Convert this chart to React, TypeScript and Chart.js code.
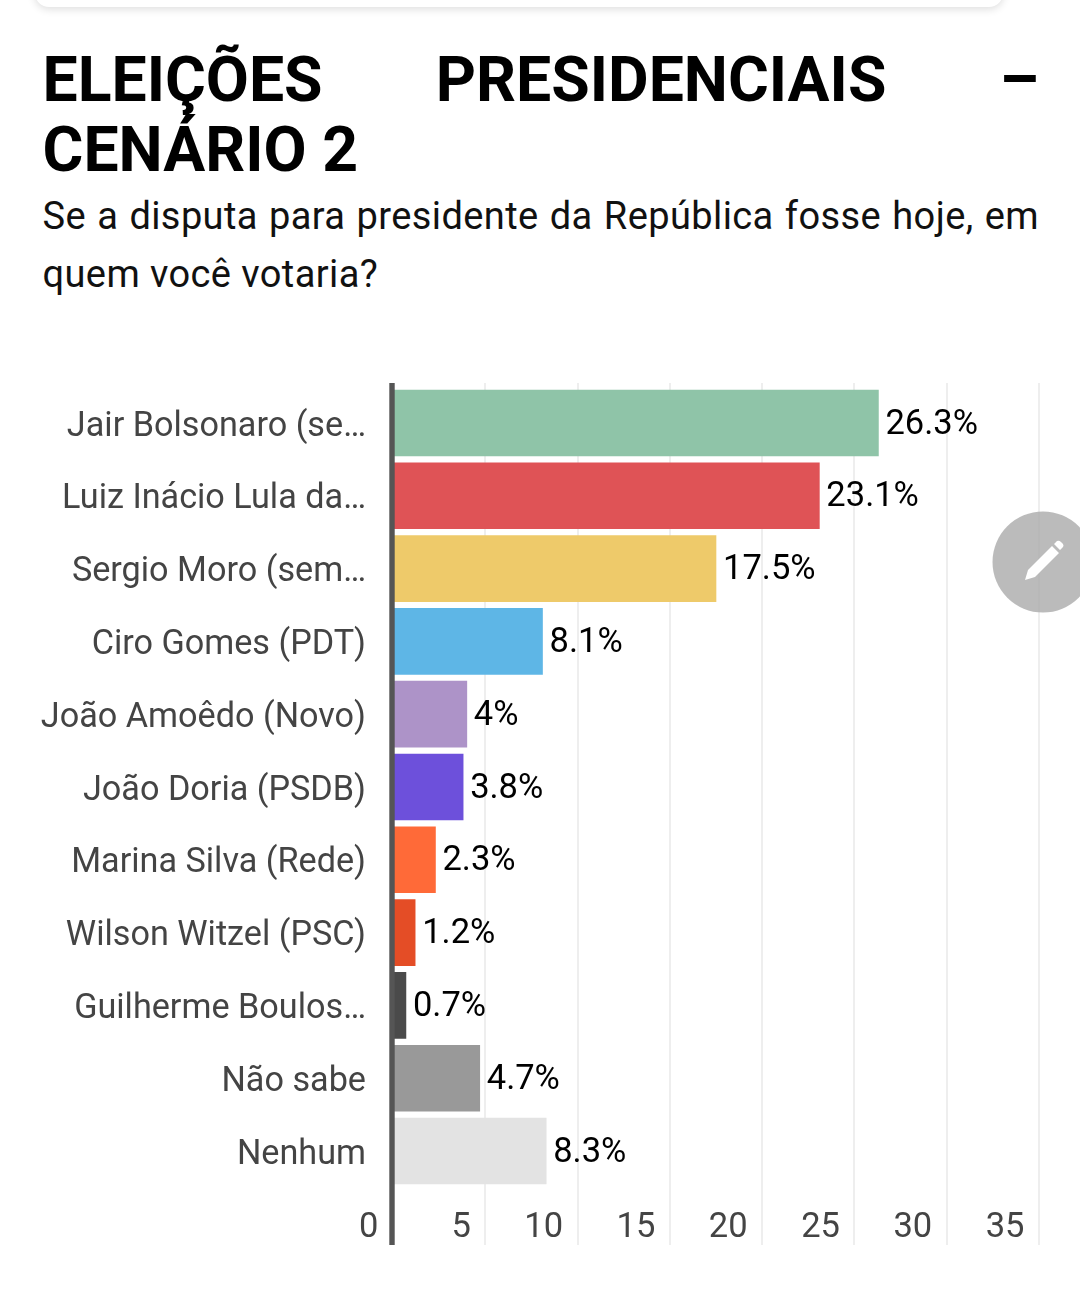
import React, { useEffect, useRef } from "react";
import { Chart, registerables } from "chart.js";

Chart.register(...registerables);

const categories = [
  "Jair Bolsonaro (se…",
  "Luiz Inácio Lula da…",
  "Sergio Moro (sem…",
  "Ciro Gomes (PDT)",
  "João Amoêdo (Novo)",
  "João Doria (PSDB)",
  "Marina Silva (Rede)",
  "Wilson Witzel (PSC)",
  "Guilherme Boulos…",
  "Não sabe",
  "Nenhum",
];
const values = [26.3, 23.1, 17.5, 8.1, 4, 3.8, 2.3, 1.2, 0.7, 4.7, 8.3];
const barColors = [
  "#8fc4a8", "#df5356", "#eeca6a", "#5eb6e6", "#ad93c8", "#6d50db",
  "#ff6a38", "#e44d26", "#4a4a4a", "#999999", "#e3e3e3",
];

const valueLabels = {
  id: "valueLabels",
  afterDatasetsDraw(chart: any) {
    const { ctx, chartArea, scales } = chart;
    const meta = chart.getDatasetMeta(0);
    ctx.save();
    ctx.fillStyle = "#555555";
    ctx.fillRect(scales.x.getPixelForValue(0) - 3.7, chartArea.top, 5.4, chartArea.bottom - chartArea.top);
    ctx.font = '34.5px Roboto';
    ctx.fillStyle = "#000";
    ctx.textAlign = "left";
    ctx.textBaseline = "middle";
    meta.data.forEach((bar: any, i: number) => {
      ctx.fillText(`${values[i]}%`, bar.x + 7, bar.y + 2);
    });
    ctx.restore();
  },
};

export default function App() {
  const ref = useRef<HTMLCanvasElement>(null);
  useEffect(() => {
    document.body.style.margin = "0";
    document.body.style.background = "#fff";
    const chart = new Chart(ref.current!, {
      type: "bar",
      data: {
        labels: categories,
        datasets: [{
          data: values.map((x, y) => ({ x, y })) as any,
          backgroundColor: barColors,
          barThickness: 66,
        }],
      },
      plugins: [valueLabels],
      options: {
        indexAxis: "y",
        responsive: false,
        animation: false,
        layout: { padding: { top: 383, right: 41, bottom: 63, left: 0 } },
        plugins: { legend: { display: false }, tooltip: { enabled: false } },
        scales: {
          x: {
            type: "linear",
            min: 0,
            max: 35,
            afterFit: (s: any) => { s.height = 4; },
            grid: { color: "#eeeeee", lineWidth: 2, drawTicks: false },
            border: { display: false },
            ticks: {
              stepSize: 5,
              align: "end",
              mirror: true,
              labelOffset: -14.5,
              padding: -4,
              maxRotation: 0,
              color: "#444444",
              font: { family: "Roboto", size: 34.5 },
            },
          },
          y: {
            type: "linear",
            reverse: true,
            offset: false,
            min: -0.549,
            max: 11.291,
            afterFit: (s: any) => { s.width = 393; },
            afterBuildTicks: (s: any) => { s.ticks = categories.map((_, i) => ({ value: i })); },
            grid: { display: false, drawTicks: false },
            border: { display: false },
            ticks: {
              autoSkip: false,
              padding: 27,
              labelOffset: 4,
              color: "#444444",
              font: { family: "Roboto", size: 34.2 },
              callback: (v: any) => categories[v],
            },
          },
        },
      } as any,
    });
    return () => chart.destroy();
  }, []);

  return (
    <div style={{ position: "relative", width: 1080, height: 1312, overflow: "hidden", background: "#fff", fontFamily: "Roboto" }}>
      <div style={{ position: "absolute", left: 35, top: -40, width: 968, height: 47, background: "#fff", borderRadius: 14, boxShadow: "0 2px 8px rgba(0,0,0,0.14)" }} />
      <div style={{ position: "absolute", left: 42.5, top: 45, width: 996.5, fontSize: 62.5, fontWeight: 700, lineHeight: "70px", color: "#000", textAlign: "justify" }}>
        ELEIÇÕES PRESIDENCIAIS – CENÁRIO 2
      </div>
      <div style={{ position: "absolute", left: 42.5, top: 187, width: 996.5, fontSize: 38, letterSpacing: 0.4, lineHeight: "58px", color: "#111", textAlign: "justify" }}>
        Se a disputa para presidente da República fosse hoje, em quem você votaria?
      </div>
      <canvas ref={ref} width={1080} height={1312} style={{ position: "absolute", left: 0, top: 0, display: "block" }} />
      <svg width={102} height={102} style={{ position: "absolute", left: 992, top: 511 }} viewBox="0 0 102 102">
        <circle cx={51} cy={51} r={50.5} fill="rgba(170,170,170,0.8)" />
        <path d="M33 69 L36 59 L60 35 L67 42 L43 66 Z M62 33 L65 30 Q67 29 69 31 L71 33 Q72 35 71 36 L68 39 Z" fill="#fff" />
      </svg>
    </div>
  );
}
